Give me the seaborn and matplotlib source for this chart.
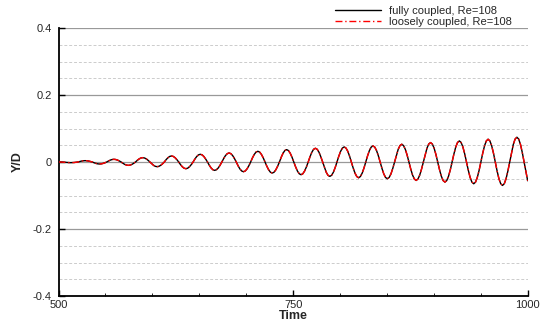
import numpy as np
import pandas as pd
import matplotlib
matplotlib.use("Agg")
import matplotlib.pyplot as plt
import seaborn as sns
from matplotlib.ticker import MultipleLocator

# sample times (1/16-period grid aligned with the peaks)
time = np.concatenate([[500.0], 528.4 + 1.917 * np.arange(-14, 247)])

fully = [
    0.0000,
    0.0000, 0.0000, -0.0005, -0.0010, -0.0014, -0.0018, -0.0020,
    -0.0018, -0.0014, -0.0008, 0.0000, 0.0015, 0.0028, 0.0037,
    0.0040, 0.0037, 0.0028, 0.0015, 0, -0.0023, -0.0042, -0.0055, -0.0060, -0.0055, -0.0042, -0.0023, 0, 0.0031, 0.0057, 0.0074,
    0.0080, 0.0074, 0.0057, 0.0031, 0, -0.0038, -0.0071, -0.0092, -0.0100, -0.0092, -0.0071, -0.0038, 0, 0.0050, 0.0092, 0.0120,
    0.0130, 0.0120, 0.0092, 0.0050, 0, -0.0054, -0.0099, -0.0129, -0.0140, -0.0129, -0.0099, -0.0054, 0, 0.0069, 0.0127, 0.0166,
    0.0180, 0.0166, 0.0127, 0.0069, 0, -0.0077, -0.0141, -0.0185, -0.0200, -0.0185, -0.0141, -0.0077, 0, 0.0088, 0.0163, 0.0213,
    0.0230, 0.0213, 0.0163, 0.0088, 0, -0.0096, -0.0177, -0.0231, -0.0250, -0.0231, -0.0177, -0.0096, 0, 0.0103, 0.0191, 0.0249,
    0.0270, 0.0249, 0.0191, 0.0103, 0, -0.0111, -0.0205, -0.0268, -0.0290, -0.0268, -0.0205, -0.0111, 0, 0.0123, 0.0226, 0.0296,
    0.0320, 0.0296, 0.0226, 0.0123, 0, -0.0126, -0.0233, -0.0305, -0.0330, -0.0305, -0.0233, -0.0126, 0, 0.0142, 0.0262, 0.0342,
    0.0370, 0.0342, 0.0262, 0.0142, 0, -0.0146, -0.0269, -0.0351, -0.0380, -0.0351, -0.0269, -0.0146, 0, 0.0157, 0.0290, 0.0379,
    0.0410, 0.0379, 0.0290, 0.0157, 0, -0.0165, -0.0304, -0.0397, -0.0430, -0.0397, -0.0304, -0.0165, 0, 0.0172, 0.0318, 0.0416,
    0.0450, 0.0416, 0.0318, 0.0172, 0, -0.0180, -0.0332, -0.0434, -0.0470, -0.0434, -0.0332, -0.0180, 0, 0.0184, 0.0339, 0.0444,
    0.0480, 0.0444, 0.0339, 0.0184, 0, -0.0192, -0.0354, -0.0462, -0.0500, -0.0462, -0.0354, -0.0192, 0, 0.0203, 0.0375, 0.0490,
    0.0530, 0.0490, 0.0375, 0.0203, 0, -0.0211, -0.0389, -0.0508, -0.0550, -0.0508, -0.0389, -0.0211, 0, 0.0222, 0.0410, 0.0536,
    0.0580, 0.0536, 0.0410, 0.0222, 0, -0.0230, -0.0424, -0.0554, -0.0600, -0.0554, -0.0424, -0.0230, 0, 0.0241, 0.0445, 0.0582,
    0.0630, 0.0582, 0.0445, 0.0241, 0, -0.0249, -0.0460, -0.0601, -0.0650, -0.0601, -0.0460, -0.0249, 0, 0.0260, 0.0481, 0.0628,
    0.0680, 0.0628, 0.0481, 0.0260, 0, -0.0268, -0.0495, -0.0647, -0.0700, -0.0647, -0.0495, -0.0268, 0, 0.0283, 0.0523, 0.0684,
    0.0740, 0.0684, 0.0523, 0.0283, 0, -0.0300, -0.0560,
]
# the loosely coupled run lies on top of the fully coupled one in the picture
loosely = [
    0.0000,
    0.0000, -0.0004, -0.0010, -0.0015, -0.0018, -0.0020, -0.0021,
    -0.0019, -0.0015, -0.0008, 0.0000, 0.0014, 0.0027, 0.0036,
    0.0040, 0.0037, 0.0028, 0.0015, 0, -0.0023, -0.0042, -0.0055, -0.0060, -0.0055, -0.0042, -0.0023, 0, 0.0031, 0.0057, 0.0074,
    0.0080, 0.0074, 0.0057, 0.0031, 0, -0.0038, -0.0071, -0.0092, -0.0100, -0.0092, -0.0071, -0.0038, 0, 0.0050, 0.0092, 0.0120,
    0.0130, 0.0120, 0.0092, 0.0050, 0, -0.0054, -0.0099, -0.0129, -0.0140, -0.0129, -0.0099, -0.0054, 0, 0.0069, 0.0127, 0.0166,
    0.0180, 0.0166, 0.0127, 0.0069, 0, -0.0077, -0.0141, -0.0185, -0.0200, -0.0185, -0.0141, -0.0077, 0, 0.0088, 0.0163, 0.0213,
    0.0230, 0.0213, 0.0163, 0.0088, 0, -0.0096, -0.0177, -0.0231, -0.0250, -0.0231, -0.0177, -0.0096, 0, 0.0103, 0.0191, 0.0249,
    0.0270, 0.0249, 0.0191, 0.0103, 0, -0.0111, -0.0205, -0.0268, -0.0290, -0.0268, -0.0205, -0.0111, 0, 0.0123, 0.0226, 0.0296,
    0.0320, 0.0296, 0.0226, 0.0123, 0, -0.0126, -0.0233, -0.0305, -0.0330, -0.0305, -0.0233, -0.0126, 0, 0.0142, 0.0262, 0.0342,
    0.0370, 0.0342, 0.0262, 0.0142, 0, -0.0146, -0.0269, -0.0351, -0.0380, -0.0351, -0.0269, -0.0146, 0, 0.0157, 0.0290, 0.0379,
    0.0410, 0.0379, 0.0290, 0.0157, 0, -0.0165, -0.0304, -0.0397, -0.0430, -0.0397, -0.0304, -0.0165, 0, 0.0172, 0.0318, 0.0416,
    0.0450, 0.0416, 0.0318, 0.0172, 0, -0.0180, -0.0332, -0.0434, -0.0470, -0.0434, -0.0332, -0.0180, 0, 0.0184, 0.0339, 0.0444,
    0.0480, 0.0444, 0.0339, 0.0184, 0, -0.0192, -0.0354, -0.0462, -0.0500, -0.0462, -0.0354, -0.0192, 0, 0.0203, 0.0375, 0.0490,
    0.0530, 0.0490, 0.0375, 0.0203, 0, -0.0211, -0.0389, -0.0508, -0.0550, -0.0508, -0.0389, -0.0211, 0, 0.0222, 0.0410, 0.0536,
    0.0580, 0.0536, 0.0410, 0.0222, 0, -0.0230, -0.0424, -0.0554, -0.0600, -0.0554, -0.0424, -0.0230, 0, 0.0241, 0.0445, 0.0582,
    0.0630, 0.0582, 0.0445, 0.0241, 0, -0.0249, -0.0460, -0.0601, -0.0650, -0.0601, -0.0460, -0.0249, 0, 0.0260, 0.0481, 0.0628,
    0.0680, 0.0628, 0.0481, 0.0260, 0, -0.0268, -0.0495, -0.0647, -0.0700, -0.0647, -0.0495, -0.0268, 0, 0.0283, 0.0523, 0.0684,
    0.0740, 0.0684, 0.0523, 0.0283, 0, -0.0300, -0.0560,
]
series_names = ["fully coupled, Re=108", "loosely coupled, Re=108"]
x_ticks = [500, 750, 1000]
y_ticks = [-0.4, -0.2, 0.0, 0.2, 0.4]
y_tick_labels = ["-0.4", "-0.2", "0", "0.2", "0.4"]

sns.set_style("white")
plt.rcParams["font.family"] = ["Liberation Sans", "DejaVu Sans"]

W, H = 546, 321
fig = plt.figure(figsize=(W / 100, H / 100), dpi=100)
ax_l, ax_r, ax_t, ax_b = 58.5, 527.7, 28, 296
ax = fig.add_axes([ax_l / W, (H - ax_b) / H, (ax_r - ax_l) / W, (ax_b - ax_t) / H])

df1 = pd.DataFrame({"Time": time, "Y/D": fully})
df2 = pd.DataFrame({"Time": time, "Y/D": loosely})

sns.lineplot(data=df1, x="Time", y="Y/D", ax=ax, color="black", lw=1.0,
             label=series_names[0], zorder=3)
sns.lineplot(data=df2, x="Time", y="Y/D", ax=ax, color="#ff0000", lw=1.0,
             label=series_names[1], zorder=4)
ax.lines[1].set_linestyle((0, (5, 2, 1, 2)))

ax.set_xlim(500, 1000)
ax.set_ylim(-0.4, 0.4)
ax.set_xticks(x_ticks)
ax.set_xticklabels([str(v) for v in x_ticks], fontsize=8)
ax.set_yticks(y_ticks)
ax.set_yticklabels(y_tick_labels, fontsize=8)
ax.xaxis.set_minor_locator(MultipleLocator(50))
ax.yaxis.set_minor_locator(MultipleLocator(0.05))

ax.grid(True, which="major", axis="y", color="#999999", lw=0.9, ls="-")
ax.grid(True, which="minor", axis="y", color="#cccccc", lw=0.7, ls=(0, (3, 2)))
ax.set_axisbelow(True)

ax.tick_params(axis="both", which="major", direction="in", length=4, width=1.0,
               color="black", labelsize=8)
ax.tick_params(axis="x", which="major", pad=3)
ax.tick_params(axis="y", which="major", pad=5)
ax.tick_params(axis="x", which="minor", direction="in", length=2, width=0.6,
               color="black")
ax.tick_params(axis="y", which="minor", length=0)
ax.tick_params(axis="x", which="both", bottom=True, top=False)
ax.tick_params(axis="y", which="both", left=True, right=False)

for s in ["top", "right"]:
    ax.spines[s].set_visible(False)
for s in ["left", "bottom"]:
    ax.spines[s].set_color("black")
    ax.spines[s].set_linewidth(1.3)

ax.set_xlabel("Time", fontsize=9, fontweight="bold", labelpad=0)
ax.set_ylabel("Y/D", fontsize=9, fontweight="bold")
ax.yaxis.set_label_coords(-(ax_l - 24) / (ax_r - ax_l), 0.5)

leg = ax.legend(loc="upper left", bbox_to_anchor=(335 / W, 1 - 6 / H),
                bbox_transform=fig.transFigure, frameon=False, fontsize=8,
                handlelength=4.1, handletextpad=0.75, labelspacing=0.05,
                borderaxespad=0, borderpad=0)

fig.savefig("out.png", dpi=100)
